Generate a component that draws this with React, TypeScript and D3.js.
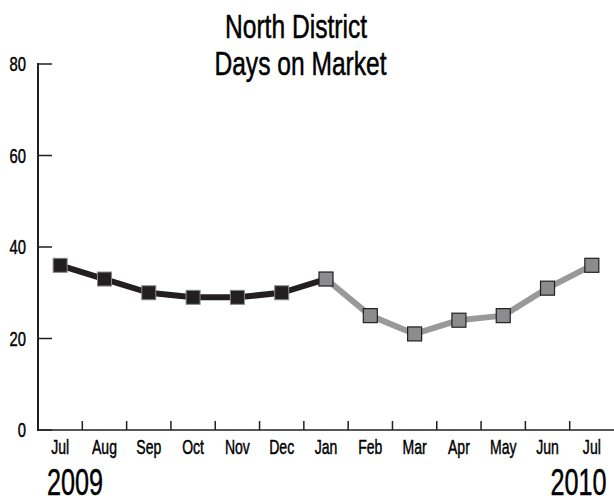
import React from "react";
import * as d3 from "d3";

const months = ["Jul", "Aug", "Sep", "Oct", "Nov", "Dec", "Jan", "Feb", "Mar", "Apr", "May", "Jun", "Jul"];
const monthKeys = months.map((m, i) => `${m}-${i}`);
const series2009 = [36, 33, 30, 29, 29, 30, 33];
const series2010 = [33, 25, 21, 24, 25, 31, 36];
const yTicks = [0, 20, 40, 60, 80];
const titleLines = ["North District", "Days on Market"];
const yearLabels = ["2009", "2010"];

const W = 614;
const H = 504;
const FONT = "'Liberation Sans', Arial, sans-serif";

type CTProps = {
  x: number;
  y: number;
  size: number;
  sx: number;
  sy?: number;
  anchor?: "start" | "middle" | "end";
  children: React.ReactNode;
};

function CText({ x, y, size, sx, sy = 1, anchor = "start", children }: CTProps) {
  return (
    <text
      transform={`translate(${x},${y}) scale(${sx},${sy})`}
      textAnchor={anchor}
      fontFamily={FONT}
      fontSize={size}
      fill="#000"
      stroke="#000"
      strokeWidth={0.45}
    >
      {children}
    </text>
  );
}

export default function App() {
  const x = d3.scaleBand<string>().domain(monthKeys).range([38, 614]).paddingInner(0).paddingOuter(0);
  const y = d3.scaleLinear().domain([0, 80]).range([430, 64]);
  const cx = (i: number) => (x(monthKeys[i]) as number) + x.bandwidth() / 2;

  const pts2009 = series2009.map((v, i) => [cx(i), y(v)] as [number, number]);
  const pts2010 = series2010.map((v, i) => [cx(i + 6), y(v)] as [number, number]);
  const line = d3.line();
  const sq = 14;

  return (
    <svg width={W} height={H} style={{ position: "absolute", left: 0, top: 0, background: "#fff" }}>
      <rect x={0} y={0} width={W} height={H} fill="#fff" />
      {/* title */}
      <CText x={296} y={37.5} size={30} sx={0.82} sy={1.13} anchor="middle">{titleLines[0]}</CText>
      <CText x={300.5} y={75} size={30} sx={0.82} sy={1.13} anchor="middle">{titleLines[1]}</CText>
      {/* y axis */}
      <line x1={38} x2={38} y1={y(80) - 1} y2={y(0) + 1} stroke="#231f20" strokeWidth={2} />
      {yTicks.map((t) => (
        <g key={t}>
          <line x1={38} x2={52} y1={y(t)} y2={y(t)} stroke="#231f20" strokeWidth={1.5} />
          <CText x={26} y={y(t) + 7} size={19.5} sx={0.76} anchor="end">{t}</CText>
        </g>
      ))}
      {/* x axis */}
      <line x1={38} x2={614} y1={y(0)} y2={y(0)} stroke="#231f20" strokeWidth={1.5} />
      {monthKeys.slice(1).map((k) => (
        <line key={k} x1={x(k) as number} x2={x(k) as number} y1={y(0)} y2={y(0) - 9} stroke="#231f20" strokeWidth={1.5} />
      ))}
      {months.map((m, i) => (
        <CText key={i} x={cx(i)} y={454} size={19.5} sx={0.72} anchor="middle">{m}</CText>
      ))}
      <CText x={75} y={495} size={35} sx={0.72} sy={1.06} anchor="middle">{yearLabels[0]}</CText>
      <CText x={578.5} y={495} size={35} sx={0.72} sy={1.06} anchor="middle">{yearLabels[1]}</CText>
      {/* series */}
      <path d={line(pts2010) as string} fill="none" stroke="#999999" strokeWidth={6} strokeLinejoin="round" />
      <path d={line(pts2009) as string} fill="none" stroke="#231f20" strokeWidth={6} strokeLinejoin="round" />
      {pts2009.slice(0, 6).map(([px, py], i) => (
        <rect key={`a${i}`} x={px - sq / 2} y={py - sq / 2} width={sq} height={sq} fill="#231f20" stroke="#888" strokeWidth={1} />
      ))}
      {pts2010.map(([px, py], i) => (
        <rect key={`b${i}`} x={px - sq / 2} y={py - sq / 2} width={sq} height={sq} fill="#8c8c8e" stroke="#231f20" strokeWidth={1.2} />
      ))}
    </svg>
  );
}
